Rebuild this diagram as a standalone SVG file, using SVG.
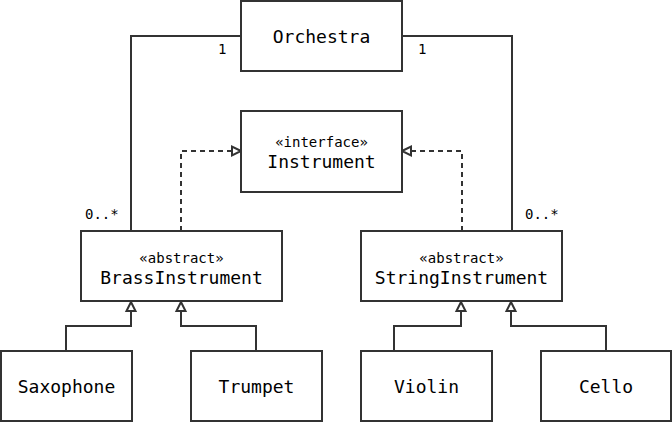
<svg xmlns="http://www.w3.org/2000/svg" width="672" height="422" viewBox="0 0 672 422">
<defs>
<style>
.box{fill:#fff;stroke:#333;stroke-width:2}
.ln{fill:none;stroke:#333;stroke-width:2}
.dash{fill:none;stroke:#333;stroke-width:2;stroke-dasharray:5 4}
.t{font-family:"DejaVu Sans Mono",monospace;font-size:18px;fill:#000;text-anchor:middle}
.s{font-family:"DejaVu Sans Mono",monospace;font-size:14px;fill:#000;text-anchor:middle}
.m{font-family:"DejaVu Sans Mono",monospace;font-size:14px;fill:#000}
.tri{fill:#fff;stroke:#333;stroke-width:2}
</style>
</defs>
<rect width="672" height="422" fill="#fff"/>
<g id="connectors">
<polyline class="ln" points="241,36 131,36 131,231"/>
<polyline class="ln" points="402,36 512,36 512,231"/>
<polyline class="dash" points="181,231 181,151 232,151"/>
<path class="tri" d="M241,151 L232,146.5 L232,155.5 Z"/>
<polyline class="dash" points="462,231 462,151 411,151"/>
<path class="tri" d="M402,151 L411,146.5 L411,155.5 Z"/>
<polyline class="ln" points="66,351 66,326 131,326 131,311"/>
<path class="tri" d="M131,302 L126.5,311 L135.5,311 Z"/>
<polyline class="ln" points="256,351 256,326 181,326 181,311"/>
<path class="tri" d="M181,302 L176.5,311 L185.5,311 Z"/>
<polyline class="ln" points="394,351 394,326 461,326 461,311"/>
<path class="tri" d="M461,302 L456.5,311 L465.5,311 Z"/>
<polyline class="ln" points="606,351 606,326 511,326 511,311"/>
<path class="tri" d="M511,302 L506.5,311 L515.5,311 Z"/>
<text class="m" x="218" y="54">1</text>
<text class="m" x="418" y="54">1</text>
<text class="m" x="85" y="219">0..*</text>
<text class="m" x="525" y="219">0..*</text>
</g>
<g id="orchestra">
<rect class="box" x="241" y="1" width="161" height="70"/>
<text class="t" x="321.5" y="43">Orchestra</text>
</g>
<g id="instrument">
<rect class="box" x="241" y="111" width="161" height="81"/>
<text class="s" x="321.5" y="147">«interface»</text>
<text class="t" x="321.5" y="168">Instrument</text>
</g>
<g id="brass">
<rect class="box" x="81" y="231" width="201" height="70"/>
<text class="s" x="181.5" y="263">«abstract»</text>
<text class="t" x="181.5" y="284">BrassInstrument</text>
</g>
<g id="string">
<rect class="box" x="361" y="231" width="201" height="70"/>
<text class="s" x="461.5" y="263">«abstract»</text>
<text class="t" x="461.5" y="284">StringInstrument</text>
</g>
<g id="saxophone">
<rect class="box" x="1" y="351" width="131" height="70"/>
<text class="t" x="66.5" y="393">Saxophone</text>
</g>
<g id="trumpet">
<rect class="box" x="191" y="351" width="131" height="70"/>
<text class="t" x="256.5" y="393">Trumpet</text>
</g>
<g id="violin">
<rect class="box" x="361" y="351" width="131" height="70"/>
<text class="t" x="426.5" y="393">Violin</text>
</g>
<g id="cello">
<rect class="box" x="541" y="351" width="130" height="70"/>
<text class="t" x="606" y="393">Cello</text>
</g>
</svg>
